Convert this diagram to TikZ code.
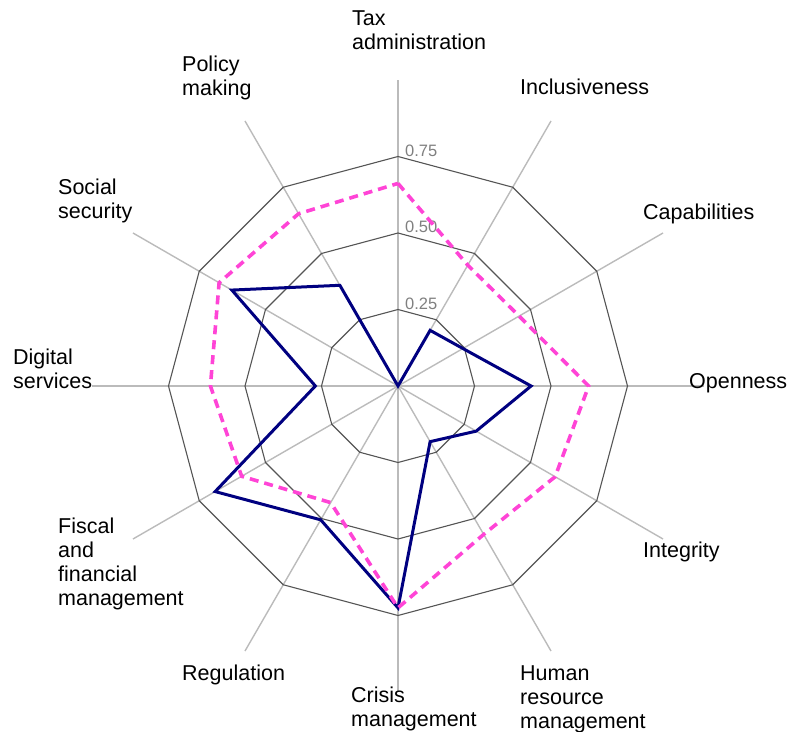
\documentclass[tikz,border=0pt]{standalone}
\usepackage{fontspec}
\setmainfont{Liberation Sans}
\definecolor{ringcol}{HTML}{555555}
\definecolor{spokecol}{HTML}{BBBBBB}
\definecolor{tickcol}{HTML}{808080}
\definecolor{navyline}{HTML}{000080}
\definecolor{pinkline}{HTML}{FF44D6}
\begin{document}
\begin{tikzpicture}[x=1pt,y=1pt,
  lab/.style={font=\fontsize{21.5}{24}\selectfont, align=left, anchor=base west, inner sep=0pt},
  tick/.style={font=\fontsize{16.5}{18}\selectfont, text=tickcol, anchor=base west, inner sep=0pt},
  ring/.style={draw=ringcol, line width=1.1pt},
  spoke/.style={draw=spokecol, line width=1.4pt},
  seriesA/.style={draw=navyline, line width=3pt, line join=miter},
  seriesB/.style={draw=pinkline, line width=3.6pt, dash pattern=on 9pt off 6pt, line join=miter}]
\useasboundingbox (-398,-345) rectangle (389,386);
\def\R{306}
\coordinate (O) at (0,0);
% spokes
\foreach \i in {0,...,11} {
  \coordinate (S\i) at ({90-30*\i}:\R);
  \draw[spoke] (O) -- (S\i);
}
% rings
\foreach \v in {0.25,0.5,0.75} {
  \draw[ring] (90:{\v*\R}) \foreach \i in {1,...,11} { -- ({90-30*\i}:{\v*\R}) } -- cycle;
}
% tick labels
\node[tick] (t25) at (7,{0.25*\R}) {0.25};
\node[tick] (t50) at (7,{0.5*\R}) {0.50};
\node[tick] (t75) at (7,{0.75*\R}) {0.75};
% series A (navy)
\foreach \v [count=\i from 0] in {0,0.21,0.245,0.435,0.295,0.21,0.725,0.505,0.69,0.27,0.627,0.38} {
  \coordinate (B\i) at ({90-30*\i}:{\v*\R});
}
\draw[seriesA] (B0) -- (B1) -- (B2) -- (B3) -- (B4) -- (B5) -- (B6) -- (B7) -- (B8) -- (B9) -- (B10) -- (B11) -- cycle;
% series B (pink dashed)
\foreach \v [count=\i from 0] in {0.662,0.456,0.457,0.623,0.593,0.56,0.725,0.44,0.59,0.613,0.675,0.65} {
  \coordinate (P\i) at ({90-30*\i}:{\v*\R});
}
\draw[seriesB] (P0) -- (P1) -- (P2) -- (P3) -- (P4) -- (P5) -- (P6) -- (P7) -- (P8) -- (P9) -- (P10) -- (P11) -- cycle;
% axis labels (anchor = baseline of last line)
\node[lab] (L0) at (-46,336) {Tax\\administration};
\node[lab] (L1) at (122,291) {Inclusiveness};
\node[lab] (L2) at (245,166.7) {Capabilities};
\node[lab] (L3) at (291,-2) {Openness};
\node[lab] (L4) at (245,-171) {Integrity};
\node[lab] (L5) at (122,-342) {Human\\resource\\management};
\node[lab] (L6) at (-47,-340.7) {Crisis\\management};
\node[lab] (L7) at (-216,-294) {Regulation};
\node[lab] (L8) at (-340,-219.3) {Fiscal\\and\\financial\\management};
\node[lab] (L9) at (-385,-2.5) {Digital\\services};
\node[lab] (L10) at (-340,167) {Social\\security};
\node[lab] (L11) at (-216,290.3) {Policy\\making};
\end{tikzpicture}
\end{document}
